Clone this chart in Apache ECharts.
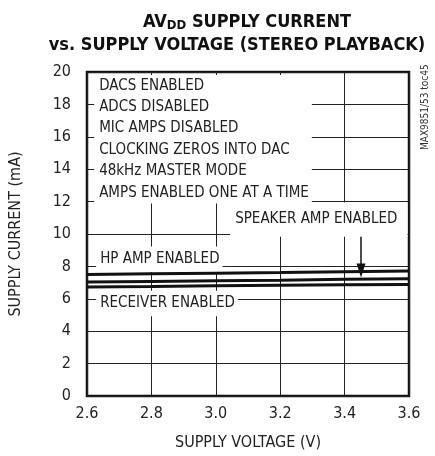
<!DOCTYPE html>
<html>
<head>
<meta charset="utf-8">
<script src="https://cdn.jsdelivr.net/npm/echarts@6/dist/echarts.min.js"></script>
<style>
html, body { margin: 0; padding: 0; background: #fff; }
#main { width: 435px; height: 456px; }
</style>
</head>
<body>
<div id="main"></div>
<script>
var FONT = "'Liberation Sans Narrow', 'DejaVu Sans Condensed', sans-serif";

// supply voltage (V)
var voltage = [2.6, 2.8, 3.0, 3.2, 3.4, 3.6];
// supply current (mA)
var speakerAmp = [7.50, 7.54, 7.58, 7.62, 7.67, 7.71];
var hpAmp = [7.03, 7.07, 7.11, 7.15, 7.20, 7.24];
var receiverAmp = [6.73, 6.76, 6.80, 6.83, 6.86, 6.89];

var conditions = ['DACS ENABLED', 'ADCS DISABLED', 'MIC AMPS DISABLED',
    'CLOCKING ZEROS INTO DAC', '48kHz MASTER MODE', 'AMPS ENABLED ONE AT A TIME'];

function pairs(ys) {
    return voltage.map(function (v, i) { return [v, ys[i]]; });
}

// text note with a white box that hides the grid behind it
function note(coord, text, padding) {
    return {
        coord: coord,
        symbol: 'circle',
        symbolSize: 1,
        itemStyle: { color: 'rgba(0,0,0,0)' },
        label: {
            show: true,
            position: 'right',
            distance: 0,
            formatter: text,
            color: '#222',
            fontFamily: FONT,
            fontSize: 15,
            lineHeight: 21.4,
            backgroundColor: '#fff',
            padding: padding
        }
    };
}

var myChart = echarts.init(document.getElementById('main'));

var lineStyle = { color: '#111', width: 3 };

var option = {
    animation: false,
    title: [
        {
            left: 242, top: 8, textAlign: 'center',
            text: '{b|AV}{s|DD}{b| SUPPLY CURRENT}',
            textStyle: {
                rich: {
                    b: { fontFamily: FONT, fontWeight: 'bold', fontSize: 18, color: '#111' },
                    s: { fontFamily: FONT, fontWeight: 'bold', fontSize: 13, color: '#111', padding: [6, 0, 0, 0] }
                }
            }
        },
        {
            left: 232, top: 31, textAlign: 'center',
            text: 'vs. SUPPLY VOLTAGE (STEREO PLAYBACK)',
            textStyle: { fontFamily: FONT, fontWeight: 'bold', fontSize: 18, color: '#111' }
        }
    ],
    grid: {
        left: 84, right: 26, top: 72, bottom: 58,
        show: true,
        borderColor: '#111',
        borderWidth: 2.5,
        backgroundColor: 'transparent'
    },
    xAxis: {
        type: 'value',
        min: 2.6, max: 3.6, interval: 0.2,
        name: 'SUPPLY VOLTAGE (V)',
        nameLocation: 'middle',
        nameGap: 39,
        nameTextStyle: { fontFamily: FONT, fontSize: 16, color: '#222' },
        axisLine: { show: false },
        axisTick: { show: false },
        axisLabel: {
            margin: 10,
            fontFamily: FONT, fontSize: 16, color: '#222',
            formatter: function (v) { return v.toFixed(1); }
        },
        splitLine: { show: true, lineStyle: { color: '#222', width: 1 } }
    },
    yAxis: {
        type: 'value',
        min: 0, max: 20, interval: 2,
        name: 'SUPPLY CURRENT (mA)',
        nameLocation: 'middle',
        nameGap: 63,
        nameTextStyle: { fontFamily: FONT, fontSize: 16, color: '#222' },
        axisLine: { show: false },
        axisTick: { show: false },
        axisLabel: { margin: 16, fontFamily: FONT, fontSize: 16, color: '#222' },
        splitLine: { show: true, lineStyle: { color: '#222', width: 1 } }
    },
    graphic: [
        {
            type: 'text',
            x: 425, y: 150,
            rotation: Math.PI / 2,
            style: {
                text: 'MAX9851/53 toc45',
                fontFamily: FONT, fontSize: 10, fill: '#333',
                textAlign: 'left', textVerticalAlign: 'middle'
            }
        }
    ],
    series: [
        {
            name: 'SPEAKER AMP ENABLED',
            type: 'line',
            data: pairs(speakerAmp),
            symbol: 'none',
            lineStyle: lineStyle,
            z: 5,
            markLine: {
                silent: true,
                animation: false,
                label: { show: false },
                lineStyle: { color: '#111', width: 1.5, type: 'solid' },
                data: [[
                    { coord: [3.451, 10.1], symbol: 'none' },
                    { coord: [3.451, 7.75], symbol: 'triangle', symbolSize: [9, 14] }
                ]]
            },
            markPoint: {
                silent: true,
                animation: false,
                data: [
                    note([2.6206, 15.85], conditions.join('\n'), [0, 3, 0, 5]),
                    note([3.043, 10.89], 'SPEAKER AMP ENABLED', [6, 10, 7, 5])
                ]
            }
        },
        {
            name: 'HP AMP ENABLED',
            type: 'line',
            data: pairs(hpAmp),
            symbol: 'none',
            lineStyle: lineStyle,
            z: 5,
            markPoint: {
                silent: true,
                animation: false,
                data: [note([2.6268, 8.44], 'HP AMP ENABLED', [2, 3, 2, 4])]
            }
        },
        {
            name: 'RECEIVER ENABLED',
            type: 'line',
            data: pairs(receiverAmp),
            symbol: 'none',
            lineStyle: lineStyle,
            z: 5,
            markPoint: {
                silent: true,
                animation: false,
                data: [note([2.6268, 5.71], 'RECEIVER ENABLED', [2, 3, 2, 4])]
            }
        }
    ]
};

myChart.setOption(option);

window.onresize = function () {
    myChart.resize();
};
</script>
</body>
</html>
